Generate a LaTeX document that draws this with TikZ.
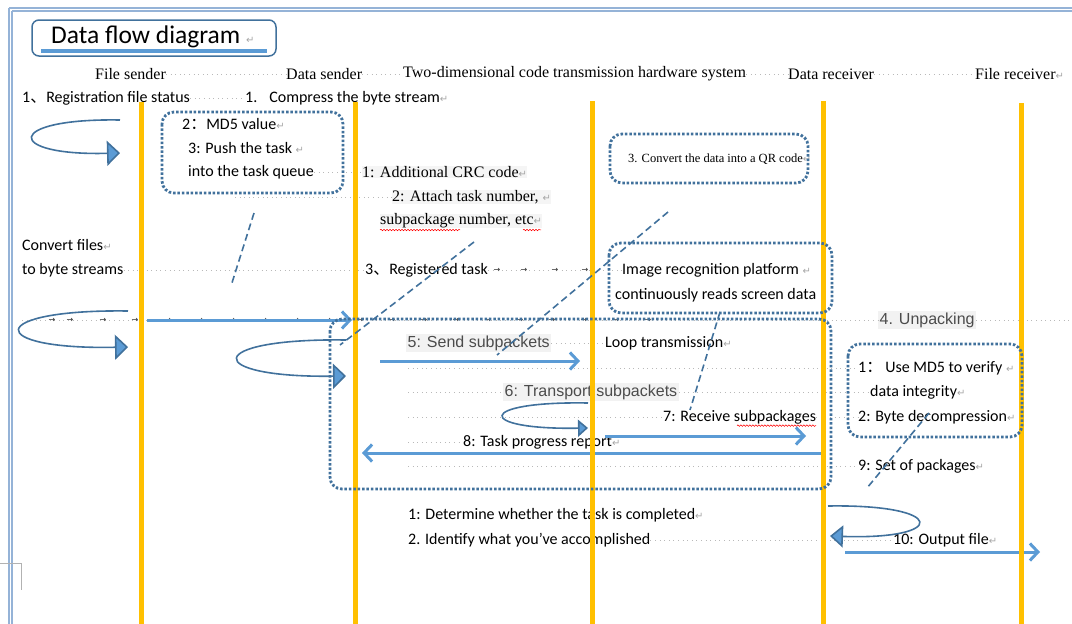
\documentclass[tikz,border=0pt]{standalone}
\usepackage{fontspec}
\usepackage{xcolor}
\setmainfont{Liberation Serif}
\setsansfont{Carlito}
\newfontfamily\cjk{Noto Sans CJK SC}
\newfontfamily\symb{DejaVu Sans}
\newfontfamily\arialfont{Liberation Sans}
\usetikzlibrary{arrows.meta}
\usetikzlibrary{decorations.pathmorphing}
\usetikzlibrary{positioning}
\definecolor{lifeOrange}{HTML}{FFC000}
\definecolor{boxBlue}{HTML}{41719C}
\definecolor{arrowBlue}{HTML}{5B9BD5}
\definecolor{frameBlue}{HTML}{95B3D7}
\newcommand{\rt}{\textcolor{gray!70}{\symb\fontsize{10}{10}\selectfont ↵}}
\tikzset{>=latex}
\tikzset{frame-line/.style={draw=frameBlue, line width=1.3pt}}
\tikzset{life-line/.style={draw=lifeOrange, line width=5pt}}
\tikzset{dot-box/.style={draw=boxBlue, line width=2.8pt, dash pattern=on 2.5pt off 1.9pt, rounded corners=12pt}}
\tikzset{call-line/.style={draw=boxBlue, line width=1.6pt, dash pattern=on 7pt off 4pt}}
\tikzset{flow-arrow/.style={draw=arrowBlue, line width=3pt, -{Straight Barb[length=8pt, width=17pt]}}}
\tikzset{loop-curve/.style={draw=boxBlue, line width=1.6pt, -{Triangle[length=13pt, width=25pt, fill=arrowBlue]}}}
\tikzset{tab-leader/.style={draw=gray!55, line width=0.6pt, dash pattern=on 0.8pt off 3.8pt}}
\tikzset{note/.style={font=\sffamily\fontsize{16}{18}\selectfont, inner sep=0pt, anchor=west}}
\tikzset{head/.style={font=\rmfamily\fontsize{16}{18}\selectfont, inner sep=0pt, anchor=west}}
\tikzset{grey-note/.style={font=\arialfont\fontsize{16}{18}\selectfont, text=black!70, fill=black!5, inner sep=1.5pt, anchor=west}}
\tikzset{shaded/.style={fill=black!4}}
\tikzset{tab-mark/.style={font=\symb\fontsize{8}{8}\selectfont, text=black!85, inner sep=0pt}}
\tikzset{spell/.style={draw=red, line width=0.5pt, decorate, decoration={snake, amplitude=0.8pt, segment length=3pt}}}

\begin{document}
\begin{tikzpicture}[x=1pt, y=-1pt]
    \useasboundingbox (0,0) rectangle (1072,624);

    % page frame
    \draw[frame-line] (9,8) -- (9,624);
    \draw[frame-line] (12,11) -- (12,624);
    \draw[frame-line] (9,8) -- (1072,8);
    \draw[frame-line] (12,11) -- (1072,11);
    \draw[gray!60, line width=0.8pt] (0,563) -| (21,590);

    % title
    \draw[draw=boxBlue, line width=1.5pt, rounded corners=7pt] (32,20) rectangle (276,56);
    \node[font=\sffamily\fontsize{25.5}{27}\selectfont, inner sep=0pt, anchor=west] (title) at (51,37) {Data flow diagram \rt};
    \draw[draw=arrowBlue, line width=3.5pt] (41,51) -- (267,51);

    % lane heads
    \node[head] (fs-label) at (95,74) {File sender};
    \node[head] (ds-label) at (286,74) {Data sender};
    \node[head] (qr-label) at (403,74) {Two-dimensional code transmission hardware system};
    \node[head] (dr-label) at (788,74) {Data receiver};
    \node[head] (fr-label) at (975,74) {File receiver\rt};
    \draw[tab-leader] (fs-label.east) -- (ds-label.west);
    \draw[tab-leader] (ds-label.east) -- (qr-label.west);
    \draw[tab-leader] (qr-label.east) -- (dr-label.west);
    \draw[tab-leader] (dr-label.east) -- (fr-label.west);

    % texts
    \node[note] (reg) at (22,98) {1{\cjk 、}Registration file status};
    \node[note] (compress) at (245,98) {1.\hspace{12pt}Compress the byte stream\rt};
    \draw[tab-leader] (reg.east) -- (compress.west);

    \node[note] (md5) at (182,124) {2{\cjk ：}MD5 value\rt};
    \node[note] (push) at (188,148) {3: Push the task \rt};
    \node[note] (queue) at (188,172) {into the task queue};
    \node[head, shaded] (crc) at (362,172) {1: Additional CRC code\rt};
    \draw[tab-leader] (queue.east) -- (crc.west);
    \node[head, shaded] (attach) at (392,197) {2: Attach task number, \rt};
    \draw[tab-leader] (235,197) -- (attach.west);
    \node[head, shaded] (subpk) at (380,221) {subpackage number, etc\rt};
    \draw[spell] ([yshift=-1.5pt]subpk.south west) -- ++(80,0);
    \draw[spell] ([xshift=143pt, yshift=-1.5pt]subpk.south west) -- ++(18,0);

    \node[head, font=\rmfamily\fontsize{12.5}{14}\selectfont] (qrtext) at (628,159) {3. Convert the data into a QR code\rt};

    \node[note] (convert) at (22,245) {Convert files\rt};
    \node[note] (tobyte) at (22,270) {to byte streams};
    \node[note] (regtask) at (365,270) {3{\cjk 、}Registered task};
    \node[note] (imgrec) at (622,270) {Image recognition platform \rt};
    \node[note] (contread) at (615,295) {continuously reads screen data};
    \draw[tab-leader] (tobyte.east) -- (regtask.west);
    \draw[tab-leader] (regtask.east) -- (imgrec.west);
    \foreach \x in {497,524,555,585}
        \node[tab-mark, fill=white] at (\x,270) {→};

    \node[grey-note] (unpack) at (878,320) {4. Unpacking};
    \draw[tab-leader] (22,320) -- (unpack.west);
    \draw[tab-leader] (unpack.east) -- (1072,320);
    \foreach \x in {52,70,103,135,168,200,...,650}
        \node[tab-mark] at (\x,320) {→};

    \node[grey-note] (send) at (406,343) {5: Send subpackets};
    \node[note] (looptx) at (605,343) {Loop transmission\rt};
    \draw[tab-leader] (send.east) -- (looptx.west);

    \node[note] (verify) at (858,368) {1{\cjk ：}\hspace{3pt}Use MD5 to verify \rt};
    \draw[tab-leader] (408,368) -- (verify.west);

    \node[grey-note] (transport) at (503,392) {6: Transport subpackets};
    \node[note] (integrity) at (870,392) {data integrity\rt};
    \draw[tab-leader] (408,392) -- (transport.west);
    \draw[tab-leader] (transport.east) -- (integrity.west);

    \node[note] (receive) at (663,417) {7: Receive subpackages};
    \node[note] (bytedec) at (858,417) {2: Byte decompression\rt};
    \draw[tab-leader] (408,417) -- (receive.west);
    \draw[tab-leader] (receive.east) -- (bytedec.west);
    \draw[spell] ([xshift=74pt, yshift=-1.5pt]receive.south west) -- ([yshift=-1.5pt]receive.south east);

    \node[note] (report) at (463,442) {8: Task progress report\rt};
    \draw[tab-leader] (408,442) -- (report.west);
    \node[note] (setpk) at (858,466) {9: Set of packages\rt};
    \draw[tab-leader] (408,466) -- (setpk.west);

    \node[note] (determine) at (408,515) {1: Determine whether the task is completed\rt};
    \node[note] (identify) at (408,540) {2. Identify what you've accomplished};
    \node[note] (output) at (893,540) {10: Output file\rt};
    \draw[tab-leader] (identify.east) -- (output.west);

    % messages
    \foreach \nm/\xa/\xb/\yy in {fsds/147/352/320, send/380/580/361, recv/605/806/436, prog/822/362/453, out/845/1040/552} {
        \coordinate (\nm-a) at (\xa,\yy);
        \coordinate (\nm-b) at (\xb,\yy);
        \draw[flow-arrow] (\nm-a) -- (\nm-b);
    }

    % self loops
    \draw[loop-curve] (120,120) .. controls (4,118) and (4,156) .. (120,153);
    \draw[loop-curve] (128,311) .. controls (-16,309) and (-16,350) .. (128,347);
    \draw[loop-curve] (346,340) .. controls (202,338) and (202,378) .. (346,376);
    \draw[loop-curve, -{Triangle[length=10pt, width=17pt, fill=arrowBlue]}] (588,403) .. controls (475,401) and (475,430) .. (588,428);
    \draw[loop-curve, -{Triangle[length=13pt, width=22pt, fill=arrowBlue]}] (828,506) .. controls (948,504) and (948,540) .. (830,536);

    % lifelines
    \foreach \nm/\x/\top in {fs/141/102, ds/355/102, qr/592/101, dr/823/101, fr/1021/103} {
        \coordinate (\nm-top) at (\x,\top);
        \coordinate (\nm-bot) at (\x,624);
        \draw[life-line] (\nm-top) -- (\nm-bot);
    }

    % dotted boxes
    \draw[dot-box] (162,112) rectangle (343,193);
    \draw[dot-box] (610,134) rectangle (808,183);
    \draw[dot-box] (609,243) rectangle (832,313);
    \draw[dot-box] (330,319) rectangle (831,489);
    \draw[dot-box] (848,344) rectangle (1022,437);

    % callouts
    \draw[call-line] (254,213) -- (231,286);
    \draw[call-line] (474,242) -- (340,345);
    \draw[call-line] (668,212) -- (497,355);
    \draw[call-line] (720,312) -- (690,410);
    \draw[call-line] (929,413) -- (867,488);
\end{tikzpicture}
\end{document}
